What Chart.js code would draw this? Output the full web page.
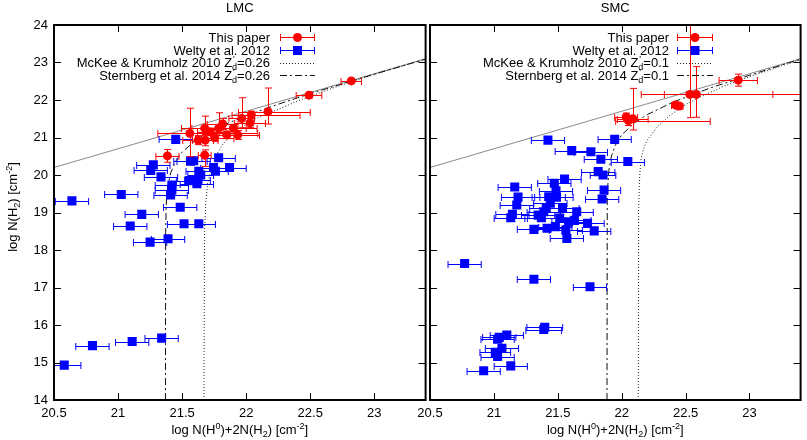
<!DOCTYPE html>
<html><head><meta charset="utf-8">
<script src="https://cdn.jsdelivr.net/npm/chart.js@4.4.1/dist/chart.umd.min.js"></script>
<style>
html,body{margin:0;padding:0;background:#fff;width:807px;height:440px;overflow:hidden}
#c1{position:absolute;left:0;top:0}
#c2{position:absolute;left:400px;top:0}
</style></head><body>
<canvas id="c1" width="432" height="440"></canvas>
<canvas id="c2" width="407" height="440"></canvas>
<script>
// ---------- axes ----------
const xTicks = [20.5, 21, 21.5, 22, 22.5, 23];
const xTickLabels = ['20.5', '21', '21.5', '22', '22.5', '23'];
const yTicks = [14, 15, 16, 17, 18, 19, 20, 21, 22, 23, 24];
const yTickLabels = ['14', '15', '16', '17', '18', '19', '20', '21', '22', '23', '24'];

// ---------- LMC: This paper ----------
const lmcRedX   = [21.385,21.56,21.625,21.676,21.68,21.676,21.754,21.785,21.816,21.849,21.934,21.965,22.03,22.04,22.17,22.49,22.82,21.72,21.9];
const lmcRedY   = [20.51,21.11,20.93,21.25,20.93,20.53,21.0,21.25,21.36,21.07,21.07,21.51,21.39,21.6,21.69,22.13,22.51,21.15,21.25];
const lmcRedXLo = [0.09,0.25,0.12,0.1,0.1,0.05,0.15,0.29,0.12,0.1,0.17,0.1,0.12,0.15,0.23,0.1,0.08,0.1,0.1];
const lmcRedXHi = [0.09,0.53,0.12,0.1,0.1,0.05,0.15,0.3,0.12,0.1,0.17,0.1,0.12,0.38,0.33,0.1,0.08,0.1,0.1];
const lmcRedYLo = [0.17,0.62,0.12,0.2,0.15,0.3,0.1,0.2,0.15,0.1,0.12,0.25,0.12,0.1,0.33,0.08,0.03,0.1,0.1];
const lmcRedYHi = [0.17,0.67,0.12,0.32,0.15,0.14,0.1,0.41,0.15,0.1,0.12,0.55,0.12,0.1,0.63,0.08,0.03,0.1,0.1];

// ---------- LMC: Welty et al. 2012 ----------
const lmcBlueX = [21.45,21.275,21.255,21.335,21.565,21.59,21.785,21.745,21.87,21.76,21.63,21.645,21.62,21.555,21.615,21.42,21.41,21.42,21.025,20.64,21.485,21.185,21.095,21.515,21.63,21.39,21.25,21.34,21.11,20.8,20.58];
const lmcBlueY = [20.95,20.27,20.12,19.95,20.37,20.38,20.46,20.2,20.2,20.1,20.1,20.0,19.87,19.85,19.77,19.73,19.47,19.6,19.48,19.31,19.14,18.95,18.64,18.7,18.7,18.3,18.21,15.65,15.56,15.45,14.93];
const lmcBlueXErr = [0.13,0.13,0.13,0.13,0.13,0.13,0.13,0.1,0.13,0.1,0.1,0.1,0.1,0.1,0.13,0.13,0.13,0.13,0.13,0.13,0.13,0.13,0.13,0.13,0.13,0.13,0.13,0.13,0.13,0.13,0.13];

// ---------- SMC: This paper ----------
const smcRedX   = [22.035,22.087,22.053,22.42,22.45,22.533,22.584,22.912];
const smcRedY   = [21.55,21.5,21.45,21.87,21.84,22.15,22.15,22.53];
const smcRedXLo = [0.09,0.12,0.1,0.03,0.03,0.38,0.25,0.15];
const smcRedXHi = [0.09,0.12,0.64,0.03,0.03,0.65,1.0,0.15];
const smcRedYLo = [0.1,0.3,0.13,0.03,0.03,0.62,0.61,0.16];
const smcRedYHi = [0.1,0.81,0.13,0.03,0.03,2.0,0.74,0.16];

// ---------- SMC: Welty et al. 2012 ----------
const smcBlueX = [21.423,21.945,21.609,21.759,21.837,22.048,21.816,21.854,21.553,21.473,21.163,21.862,21.486,21.189,21.49,21.847,21.429,21.179,21.442,21.41,21.537,21.39,21.648,21.346,21.372,21.145,21.132,21.515,21.584,21.63,21.733,21.313,21.416,21.481,21.563,21.785,21.571,20.771,21.313,21.752,21.398,21.39,21.101,21.042,21.029,21.063,21.011,21.029,21.132,20.92];
const smcBlueY = [20.93,20.95,20.65,20.62,20.42,20.36,20.09,20.0,19.89,19.78,19.68,19.6,19.58,19.41,19.41,19.36,19.42,19.2,19.25,19.11,19.12,19.02,19.02,18.93,18.86,18.95,18.86,18.85,18.75,18.79,18.71,18.55,18.58,18.62,18.53,18.51,18.31,17.64,17.22,17.02,15.94,15.88,15.73,15.67,15.62,15.38,15.27,15.16,14.91,14.78];
const smcBlueXErr = [0.13,0.13,0.13,0.13,0.13,0.13,0.13,0.1,0.13,0.13,0.13,0.13,0.13,0.13,0.13,0.13,0.13,0.13,0.13,0.13,0.13,0.13,0.13,0.13,0.13,0.13,0.13,0.13,0.13,0.13,0.13,0.13,0.13,0.13,0.13,0.13,0.13,0.13,0.13,0.13,0.14,0.14,0.13,0.13,0.13,0.13,0.12,0.13,0.13,0.13];

// ---------- model curves ----------
const lmcMKX = [21.67,21.675,21.685,21.7,21.73,21.77,21.82,21.88,21.95,22.05,22.2,22.4,22.7,23.0,23.4];
const lmcMKY = [14,18.5,19.3,19.8,20.2,20.55,20.83,21.05,21.25,21.47,21.68,21.97,22.35,22.68,23.09];
const lmcStX = [21.37,21.371,21.375,21.38,21.39,21.41,21.45,21.5,21.6,21.7,21.8,22.0,22.2,22.5,23.0,23.4];
const lmcStY = [14,18.4,19.13,19.44,19.74,20.05,20.37,20.61,20.91,21.13,21.3,21.58,21.83,22.17,22.69,23.09];
const smcMKX = [22.13,22.132,22.14,22.15,22.17,22.2,22.28,22.38,22.5,22.61,22.8,23.0,23.4];
const smcMKY = [14,19.0,19.9,20.4,20.7,20.93,21.29,21.6,21.88,22.07,22.37,22.62,23.08];
const smcStX = [21.885,21.887,21.89,21.9,21.92,21.95,22.0,22.1,22.2,22.4,22.7,23.0,23.4];
const smcStY = [14,19.25,19.65,20.13,20.51,20.79,21.07,21.39,21.61,21.94,22.33,22.66,23.09];
const fullH2X = [20.5, 23.4];
const fullH2Y = [20.2, 23.1];

// ---------- styling ----------
const FONT = '"Liberation Sans", Arial, Helvetica, sans-serif';
const RED = '#ff0000', BLUE = '#0000ff';
const BIG = 13, SMALL = 9;

function zip(xs, ys) { return xs.map((x, i) => ({x: x, y: ys[i]})); }

function segWidth(ctx, segs) {
  let w = 0;
  for (const s of segs) {
    if (s[0] === 'n') { ctx.font = BIG + 'px ' + FONT; w += ctx.measureText(s[1]).width; }
    else if (s[0] === 'ss') { ctx.font = SMALL + 'px ' + FONT; w += Math.max(ctx.measureText(s[1]).width, ctx.measureText(s[2]).width); }
    else { ctx.font = SMALL + 'px ' + FONT; w += ctx.measureText(s[1]).width; }
  }
  return w;
}
function drawRich(ctx, segs, x, y, align) {
  const w = segWidth(ctx, segs);
  let cx = align === 'right' ? x - w : (align === 'center' ? x - w / 2 : x);
  ctx.textAlign = 'left'; ctx.textBaseline = 'alphabetic';
  for (const s of segs) {
    if (s[0] === 'n') { ctx.font = BIG + 'px ' + FONT; ctx.fillText(s[1], cx, y); cx += ctx.measureText(s[1]).width; }
    else if (s[0] === 'sup') { ctx.font = SMALL + 'px ' + FONT; ctx.fillText(s[1], cx, y - 5); cx += ctx.measureText(s[1]).width; }
    else if (s[0] === 'sub') { ctx.font = SMALL + 'px ' + FONT; ctx.fillText(s[1], cx, y + 3); cx += ctx.measureText(s[1]).width; }
    else if (s[0] === 'ss') { ctx.font = SMALL + 'px ' + FONT; ctx.fillText(s[1], cx + 1, y - 5); ctx.fillText(s[2], cx, y + 3);
      cx += Math.max(ctx.measureText(s[1]).width, ctx.measureText(s[2]).width); }
  }
}

const xTitle = [['n','log N(H'],['sup','0'],['n',')+2N(H'],['sub','2'],['n',') [cm'],['sup','-2'],['n',']']];
const yTitle = [['n','log N(H'],['sub','2'],['n',') [cm'],['sup','-2'],['n',']']];

const errPlugin = {
  id: 'errbars',
  beforeDatasetDraw(chart, args) {
    const ds = chart.data.datasets[args.index];
    if (!ds.err) return;
    const xs = chart.scales.x, ys = chart.scales.y, a = chart.chartArea, ctx = chart.ctx;
    const e = ds.err, cap = 3.5;
    ctx.save();
    ctx.beginPath(); ctx.rect(a.left, a.top, a.right - a.left, a.bottom - a.top); ctx.clip();
    ctx.strokeStyle = ds.borderColor; ctx.lineWidth = 1;
    ds.data.forEach((p, i) => {
      const px = Math.round(xs.getPixelForValue(p.x)) + 0.5;
      const py = Math.round(ys.getPixelForValue(p.y)) + 0.5;
      ctx.beginPath();
      if (e.xlo && (e.xlo[i] || e.xhi[i])) {
        const x1 = xs.getPixelForValue(p.x - e.xlo[i]), x2 = xs.getPixelForValue(p.x + e.xhi[i]);
        ctx.moveTo(x1, py); ctx.lineTo(x2, py);
        ctx.moveTo(x1, py - cap); ctx.lineTo(x1, py + cap);
        ctx.moveTo(x2, py - cap); ctx.lineTo(x2, py + cap);
      }
      if (e.ylo && (e.ylo[i] || e.yhi[i])) {
        const y1 = ys.getPixelForValue(p.y - e.ylo[i]), y2 = ys.getPixelForValue(p.y + e.yhi[i]);
        ctx.moveTo(px, y1); ctx.lineTo(px, y2);
        ctx.moveTo(px - cap, y1); ctx.lineTo(px + cap, y1);
        ctx.moveTo(px - cap, y2); ctx.lineTo(px + cap, y2);
      }
      ctx.stroke();
    });
    ctx.restore();
  }
};

function framePlugin() {
  return {
    id: 'frame',
    afterDatasetsDraw(chart) {
      const a = chart.chartArea, ctx = chart.ctx, xs = chart.scales.x, ys = chart.scales.y;
      ctx.save();
      ctx.strokeStyle = '#000'; ctx.lineWidth = 1;
      ctx.beginPath();
      for (const v of xTicks) {
        const p = Math.round(xs.getPixelForValue(v)) + 0.5;
        ctx.moveTo(p, a.bottom); ctx.lineTo(p, a.bottom - 7);
        ctx.moveTo(p, a.top); ctx.lineTo(p, a.top + 7);
      }
      for (const v of yTicks) {
        const p = Math.round(ys.getPixelForValue(v)) + 0.5;
        ctx.moveTo(a.left, p); ctx.lineTo(a.left + 7, p);
        ctx.moveTo(a.right, p); ctx.lineTo(a.right - 7, p);
      }
      ctx.stroke();
      ctx.lineWidth = 2;
      ctx.strokeRect(a.left, a.top, a.right - a.left, a.bottom - a.top);
      ctx.restore();
    }
  };
}

function textPlugin(cfg) {
  return {
    id: 'texts',
    afterDraw(chart) {
      const a = chart.chartArea, ctx = chart.ctx;
      const cx = (a.left + a.right) / 2;
      ctx.save();
      ctx.fillStyle = '#000';
      drawRich(ctx, [['n', cfg.title]], cx, 12, 'center');
      drawRich(ctx, xTitle, cx, 434, 'center');
      if (cfg.showYTitle) {
        ctx.save(); ctx.translate(12, 207); ctx.rotate(-Math.PI / 2);
        drawRich(ctx, yTitle, 0, 4.5, 'center');
        ctx.restore();
      }
      // legend
      const L = cfg.legend;
      const rows = [37, 50, 62.5, 75];
      const labels = [
        [['n','This paper']],
        [['n','Welty et al. 2012']],
        [['n','McKee & Krumholz 2010 Z'],['ss',"'",'d'],['n','=' + cfg.zd]],
        [['n','Sternberg et al. 2014 Z'],['ss',"'",'d'],['n','=' + cfg.zd]]
      ];
      for (let i = 0; i < 4; i++) {
        ctx.fillStyle = '#000';
        drawRich(ctx, labels[i], L.textRight, rows[i] + 4.5, 'right');
      }
      const x1 = L.s1, x2 = L.s2, xm = (x1 + x2) / 2;
      // error bar samples
      [[RED, rows[0], 'c'], [BLUE, rows[1], 's']].forEach(([col, yy, m]) => {
        const y = Math.round(yy) + 0.5;
        ctx.strokeStyle = col; ctx.fillStyle = col; ctx.lineWidth = 1;
        ctx.beginPath();
        ctx.moveTo(x1, y); ctx.lineTo(x2, y);
        ctx.moveTo(x1 + 0.5, y - 3.5); ctx.lineTo(x1 + 0.5, y + 3.5);
        ctx.moveTo(x2 - 0.5, y - 3.5); ctx.lineTo(x2 - 0.5, y + 3.5);
        ctx.stroke();
        ctx.beginPath();
        if (m === 'c') { ctx.arc(xm, y, 4.5, 0, Math.PI * 2); ctx.fill(); }
        else { ctx.fillRect(xm - 4.5, y - 4.5, 9, 9); }
      });
      ctx.strokeStyle = '#222'; ctx.lineWidth = 1;
      ctx.setLineDash([1, 2]);
      ctx.beginPath(); ctx.moveTo(x1, Math.round(rows[2]) + 0.5); ctx.lineTo(x2, Math.round(rows[2]) + 0.5); ctx.stroke();
      ctx.strokeStyle = '#111';
      ctx.setLineDash([7, 3, 2, 3]);
      ctx.beginPath(); ctx.moveTo(x1, Math.round(rows[3]) + 0.5); ctx.lineTo(x2, Math.round(rows[3]) + 0.5); ctx.stroke();
      ctx.restore();
    }
  };
}

function makePanel(id, cfg) {
  return new Chart(document.getElementById(id), {
    type: 'scatter',
    data: {
      datasets: [
        { label: 'This paper', data: zip(cfg.redX, cfg.redY), pointStyle: 'circle', pointRadius: 4.5,
          backgroundColor: RED, borderColor: RED, pointBorderWidth: 0,
          err: {xlo: cfg.redXLo, xhi: cfg.redXHi, ylo: cfg.redYLo, yhi: cfg.redYHi} },
        { label: 'Welty et al. 2012', data: zip(cfg.blueX, cfg.blueY), pointStyle: 'rect', pointRadius: 6.4,
          backgroundColor: BLUE, borderColor: BLUE, pointBorderWidth: 0,
          err: {xlo: cfg.blueXErr, xhi: cfg.blueXErr} },
        { label: 'McKee & Krumholz 2010', data: zip(cfg.mkX, cfg.mkY), showLine: true, pointRadius: 0,
          borderColor: '#222', borderWidth: 1, borderDash: [1, 2], tension: 0 },
        { label: 'Sternberg et al. 2014', data: zip(cfg.stX, cfg.stY), showLine: true, pointRadius: 0,
          borderColor: '#111', borderWidth: 1, borderDash: [7, 3, 2, 3], tension: 0 },
        { label: 'N(H2)=N/2', data: zip(fullH2X, fullH2Y), showLine: true, pointRadius: 0,
          borderColor: '#8a8a8a', borderWidth: 1, tension: 0 }
      ]
    },
    options: {
      responsive: false, animation: false, events: [],
      layout: { padding: { left: 0, right: cfg.padRight, top: 25, bottom: 0 } },
      plugins: { legend: { display: false }, tooltip: { enabled: false }, title: { display: false } },
      scales: {
        x: {
          type: 'linear', min: 20.5, max: 23.4,
          afterBuildTicks: s => { s.ticks = xTicks.map(v => ({ value: v })); },
          afterFit: s => { s.height = 40; },
          grid: { display: false, drawTicks: false }, border: { display: false },
          ticks: { autoSkip: false, maxRotation: 0, padding: 6, color: '#000',
                   font: { family: FONT, size: 13 },
                   callback: v => xTickLabels[xTicks.indexOf(v)] }
        },
        y: {
          type: 'linear', min: 14, max: 24,
          afterBuildTicks: s => { s.ticks = yTicks.map(v => ({ value: v })); },
          afterFit: s => { s.width = cfg.yWidth; },
          grid: { display: false, drawTicks: false }, border: { display: false },
          ticks: { display: cfg.showYTicks, padding: 6, color: '#000',
                   font: { family: FONT, size: 13 },
                   callback: v => yTickLabels[yTicks.indexOf(v)] }
        }
      }
    },
    plugins: [errPlugin, framePlugin(), textPlugin(cfg)]
  });
}

makePanel('c1', {
  title: 'LMC', zd: '0.26', showYTitle: true, showYTicks: true, yWidth: 54, padRight: 3,
  redX: lmcRedX, redY: lmcRedY, redXLo: lmcRedXLo, redXHi: lmcRedXHi, redYLo: lmcRedYLo, redYHi: lmcRedYHi,
  blueX: lmcBlueX, blueY: lmcBlueY, blueXErr: lmcBlueXErr,
  mkX: lmcMKX, mkY: lmcMKY, stX: lmcStX, stY: lmcStY,
  legend: { textRight: 270, s1: 280, s2: 315 }
});
makePanel('c2', {
  title: 'SMC', zd: '0.1', showYTitle: false, showYTicks: false, yWidth: 30, padRight: 2,
  redX: smcRedX, redY: smcRedY, redXLo: smcRedXLo, redXHi: smcRedXHi, redYLo: smcRedYLo, redYHi: smcRedYHi,
  blueX: smcBlueX, blueY: smcBlueY, blueXErr: smcBlueXErr,
  mkX: smcMKX, mkY: smcMKY, stX: smcStX, stY: smcStY,
  legend: { textRight: 269, s1: 277, s2: 313 }
});
</script></body></html>
